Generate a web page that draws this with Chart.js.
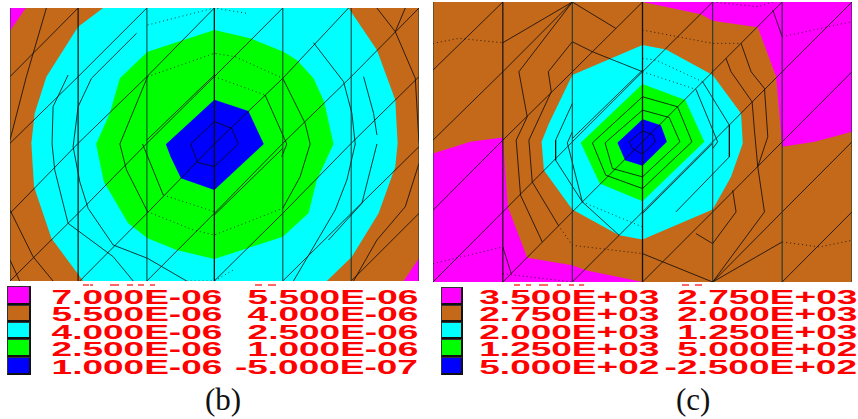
<!DOCTYPE html>
<html>
<head>
<meta charset="utf-8">
<title>Contours</title>
<script src="https://cdn.jsdelivr.net/npm/chart.js@4"></script>
<style>
    html, body { margin: 0; padding: 0; background: #fff; width: 858px; height: 419px; overflow: hidden; }
    canvas { position: absolute; }
    .swatch { position: absolute; box-sizing: border-box; border: 1px solid #333; border-right: 2px solid #111; border-bottom: 2px solid #111; }
    .val { position: absolute; font: bold 20px "Liberation Sans", sans-serif; color: #f00; line-height: 20px;
           white-space: nowrap; transform: scaleX(1.85); transform-origin: right center; }
    .cap { position: absolute; font: 31px "Liberation Serif", serif; color: #111; line-height: 31px; }
    .speck { position: absolute; background: #f66; height: 2px; }
</style>
</head>
<body>
<canvas id="plotB" width="409" height="273" style="left:10px;top:8px"></canvas>
<canvas id="plotC" width="419" height="280" style="left:433px;top:2px"></canvas>
<div id="legend"></div>

<script>
const MAGENTA = '#ff00ff', BROWN = '#c4681a', CYAN = '#00ffff', GREEN = '#00ff00', BLUE = '#0000ff';
const legendColors = [MAGENTA, BROWN, CYAN, GREEN, BLUE];

// legend values
const labelsB1 = ['7.000E-06', '5.500E-06', '4.000E-06', '2.500E-06', '1.000E-06'];
const labelsB2 = ['5.500E-06', '4.000E-06', '2.500E-06', '1.000E-06', '-5.000E-07'];
const labelsC1 = ['3.500E+03', '2.750E+03', '2.000E+03', '1.250E+03', '5.000E+02'];
const labelsC2 = ['2.750E+03', '2.000E+03', '1.250E+03', '5.000E+02', '-2.500E+02'];

// panel (b) contour bands
const bFull = [[31,24],[1256,24],[1256,843],[31,843]];
const bBrown = [[78,24],[1256,24],[1256,775],[1210,843],[31,843],[31,92]];
const bCyan = [[310,24],[235,80],[140,230],[105,340],[95,430],[103,560],[155,715],[250,843],[980,843],[1055,770],[1135,640],[1185,500],[1192,430],[1185,300],[1130,150],[1045,24]];
const bGreen = [[643,90],[750,115],[850,155],[890,180],[940,235],[972,305],[1000,432],[950,540],[925,640],[848,710],[643,777],[530,750],[443,715],[385,670],[312,545],[289,432],[330,340],[360,235],[443,155]];
const bBlue = [[643,299],[745,333],[791,432],[643,570],[543,535],[512,470],[498,433]];

// panel (b) mesh rings
const bRings = [
    [[643,365],[695,385],[715,432],[643,500],[593,487],[572,432],[643,365]],
    [[795,285],[860,432],[845,470]],
    [[428,432],[490,585]],
    [[848,235],[915,370],[930,432],[900,530],[848,625]],
    [[443,635],[380,510],[360,432],[443,230]],
    [[940,128],[1030,245],[1055,340],[1065,432],[1040,540],[1005,630],[880,843]],
    [[1090,230],[1120,340],[1130,405]],
    [[1130,432],[1085,610],[985,720]],
    [[265,625],[240,545],[220,440],[235,320],[275,235],[410,100]],
    [[265,625],[340,735],[443,775],[560,843]],
    [[205,225],[160,320],[157,432],[165,510],[190,610],[205,670],[340,770],[400,843]],
    [[1130,24],[1185,95],[1245,235],[1256,430]],
    [[140,24],[80,230],[31,420]],
    [[31,630],[100,770],[160,843]],
    [[1256,490],[1215,620],[1130,720],[1060,843]],
    [[1215,24],[1185,95]],
    [[31,780],[60,843]]
];
const bDotted = [
    [[443,75],[643,24],[740,40]],
    [[443,230],[643,160],[705,170],[848,235]],
    [[643,230],[795,285]],
    [[443,635],[580,690],[643,705],[848,625]],
    [[490,585],[643,635]],
    [[560,843],[643,843],[700,810]]
];
const bMeshX = [31,235,441,643,848,1053,1256];
const bDiagonals = [
    [[235,24],[31,230]],
    [[441,24],[235,230],[31,430]],
    [[643,24],[441,230],[235,430],[31,640]],
    [[848,24],[643,230],[441,430],[235,640],[31,843]],
    [[1045,24],[848,235],[643,432],[441,640],[240,843]],
    [[1256,24],[1053,230],[848,430],[643,640],[441,843]],
    [[1256,230],[1053,430],[848,640],[643,843]],
    [[1256,440],[1053,640],[848,843]],
    [[1256,640],[1053,843]],
    [[441,420],[643,225]],
    [[848,445],[643,645]]
];

// panel (c) contour bands
const cFull = [[13,6],[1267,6],[1267,845],[13,845]];
const cMagentaTop = [[640,6],[1267,6],[1267,395],[1155,425],[1058,440],[1040,230],[985,82],[850,62],[815,43]];
const cMagentaLow = [[13,460],[125,425],[222,412],[237,620],[295,772],[430,795],[470,810],[640,845],[13,845]];
const cCyan = [[640,135],[710,148],[850,225],[935,340],[940,430],[905,530],[850,628],[640,718],[570,705],[430,628],[345,510],[338,425],[360,370],[430,225]];
const cGreen = [[640,252],[768,300],[825,425],[640,603],[512,550],[455,428]];
const cBlue = [[640,357],[695,375],[713,425],[640,497],[588,480],[565,428]];

// panel (c) mesh rings
const cRings = [
    [[640,392],[672,405],[678,425],[640,462],[610,445],[600,425],[640,392]],
    [[640,330],[720,352],[752,425],[640,530],[550,505],[528,428],[640,330]],
    [[640,290],[745,320],[788,425],[640,565],[530,525],[490,428],[640,290]],
    [[800,268],[865,425],[850,445]],
    [[460,605],[415,428],[430,395]],
    [[820,245],[900,375],[900,470],[740,635]],
    [[430,310],[380,420],[380,480],[460,605],[570,705]],
    [[270,215],[295,350],[262,420],[275,585],[340,725]],
    [[358,215],[367,275],[300,420],[310,545],[388,675]],
    [[890,175],[905,215],[968,305],[975,390],[985,500],[1005,635]],
    [[935,130],[965,215],[1005,265],[1015,410],[985,500]],
    [[910,570],[920,635],[850,730],[800,700]],
    [[430,6],[222,128]],
    [[430,6],[270,215]],
    [[430,125],[358,215]],
    [[430,6],[560,85]],
    [[430,125],[490,155],[640,215]],
    [[1030,30],[1058,110]],
    [[222,740],[247,820]],
    [[850,845],[1058,725]],
    [[850,845],[1005,635]],
    [[640,760],[850,845]]
];
const cDotted = [
    [[13,130],[90,115],[222,128]],
    [[640,90],[850,130],[935,130]],
    [[850,6],[985,20],[1030,6]],
    [[1058,110],[1267,65]],
    [[13,790],[222,740]],
    [[1058,725],[1170,740],[1267,720]],
    [[222,820],[430,845]],
    [[388,675],[430,735],[640,760]],
    [[640,175],[680,180],[820,245]],
    [[460,605],[640,680]],
    [[640,215],[800,268]]
];
const cMeshX = [13,222,430,640,850,1058,1267];
const cDiagonals = [
    [[222,6],[13,210]],
    [[430,6],[222,215],[13,420]],
    [[640,6],[430,215],[222,420],[13,630]],
    [[850,6],[640,215],[430,425],[222,635],[13,845]],
    [[1058,6],[850,215],[640,425],[430,635],[222,845]],
    [[1267,6],[1058,215],[850,425],[640,635],[430,845]],
    [[1267,215],[1058,425],[850,635],[640,845]],
    [[1267,425],[1058,635],[850,845]],
    [[1267,635],[1058,845]],
    [[430,415],[640,210]],
    [[850,430],[640,640]]
];

// stray red marks above the first legend row
const specksB = [[83,6],[90,3],[110,9],[127,6],[138,6],[150,5],[255,7],[268,8]];
const specksC = [[514,6],[526,5],[539,9],[557,4],[569,5],[579,5],[682,7],[695,7]];

function toPoints(list) {
    return list.map(function (p) { return { x: p[0], y: p[1] }; });
}

function lineSet(list, color, width, dash) {
    return {
        data: toPoints(list),
        showLine: true,
        fill: false,
        pointRadius: 0,
        borderColor: color,
        borderWidth: width,
        borderDash: dash || []
    };
}

function makePlot(id, bands, rings, dotted, meshX, diagonals, xr, yr) {
    let sets = [];
    bands.forEach(function (b) {
        sets.push({ data: toPoints(b[0]), showLine: true, fill: 'shape', backgroundColor: b[1], borderWidth: 0, pointRadius: 0 });
    });
    rings.forEach(function (r) { sets.push(lineSet(r, 'rgba(10,10,10,0.8)', 1)); });
    diagonals.forEach(function (r) { sets.push(lineSet(r, 'rgba(10,10,10,0.8)', 1)); });
    dotted.forEach(function (r) { sets.push(lineSet(r, 'rgba(10,10,10,0.8)', 1, [1, 3])); });
    meshX.forEach(function (x, i) {
        let dark = i === 3 || i === 1;
        sets.push(lineSet([[x, yr[0]], [x, yr[1]]], dark ? '#111' : 'rgba(10,50,50,0.8)', i === 3 ? 1.3 : 1.2));
    });
    // later arrays paint on top
    sets.forEach(function (s, i) { s.order = sets.length - i; });

    new Chart(document.getElementById(id), {
        type: 'scatter',
        data: { datasets: sets },
        options: {
            responsive: false,
            animation: false,
            layout: { padding: 0 },
            plugins: { legend: { display: false }, tooltip: { enabled: false } },
            scales: {
                x: { type: 'linear', display: false, min: xr[0], max: xr[1] },
                y: { type: 'linear', display: false, min: yr[0], max: yr[1], reverse: true }
            }
        }
    });
}

makePlot('plotB',
    [[bFull, MAGENTA], [bBrown, BROWN], [bCyan, CYAN], [bGreen, GREEN], [bBlue, BLUE]],
    bRings, bDotted, bMeshX, bDiagonals, [31, 1256], [24, 843]);

makePlot('plotC',
    [[cFull, BROWN], [cMagentaTop, MAGENTA], [cMagentaLow, MAGENTA], [cCyan, CYAN], [cGreen, GREEN], [cBlue, BLUE]],
    cRings, cDotted, cMeshX, cDiagonals, [13, 1267], [6, 845]);

// legend under each panel
function addLegend(swatchX, swatchW, col1, right1, col2, right2, swatchTops, textTops, specks) {
    let box = document.getElementById('legend');
    legendColors.forEach(function (c, i) {
        let s = document.createElement('div');
        s.className = 'swatch';
        s.style.cssText = 'left:' + swatchX + 'px;top:' + swatchTops[i] + 'px;width:' + swatchW + 'px;height:' + (swatchTops[i + 1] - swatchTops[i]) + 'px;background:' + c;
        box.appendChild(s);
        [[col1, right1], [col2, right2]].forEach(function (t) {
            let v = document.createElement('div');
            v.className = 'val';
            v.textContent = t[0][i];
            v.style.right = (858 - t[1]) + 'px';
            v.style.top = textTops[i] + 'px';
            box.appendChild(v);
        });
    });
    specks.forEach(function (m) {
        let d = document.createElement('div');
        d.className = 'speck';
        d.style.cssText = 'left:' + m[0] + 'px;top:284px;width:' + m[1] + 'px';
        box.appendChild(d);
    });
}
addLegend(7, 24, labelsB1, 222, labelsB2, 418, [286, 305, 322, 339, 357, 375], [287, 304, 322, 339, 357], specksB);
addLegend(441, 22, labelsC1, 659, labelsC2, 857, [287, 305, 322, 339, 357, 375], [287, 304, 322, 339, 357], specksC);

function addCaption(text, x, y) {
    let c = document.createElement('div');
    c.className = 'cap';
    c.textContent = text;
    c.style.left = x + 'px';
    c.style.top = y + 'px';
    document.getElementById('legend').appendChild(c);
}
addCaption('(b)', 205, 384);
addCaption('(c)', 676, 384);
</script>
</body>
</html>
